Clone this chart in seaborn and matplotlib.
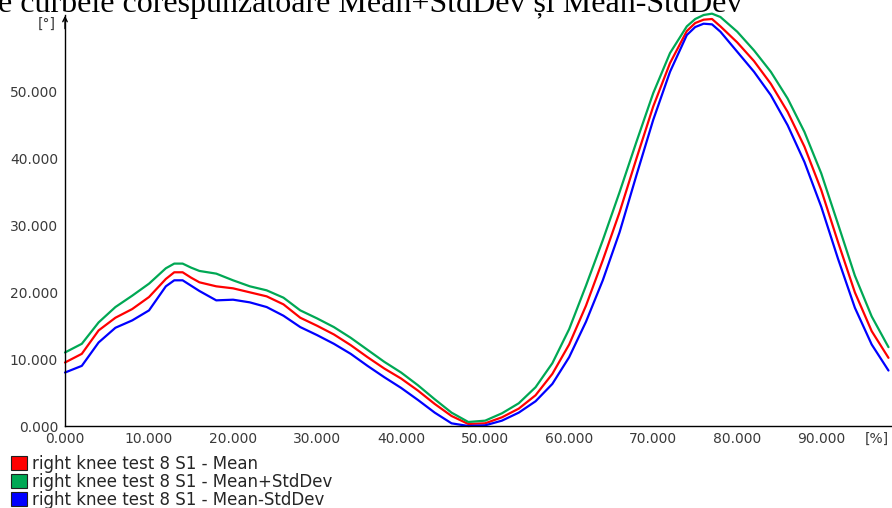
import numpy as np
import pandas as pd
import matplotlib
matplotlib.use("Agg")
import matplotlib.pyplot as plt
from matplotlib.patches import Patch
from matplotlib.ticker import MultipleLocator, FormatStrFormatter
import seaborn as sns

# Gait cycle (%) and knee flexion angle (deg)
cycle = [0, 2, 4, 6, 8, 10, 12, 13, 14, 15, 16, 18, 20, 22, 24, 26, 28, 30, 32, 34, 36, 38,
         40, 42, 44, 46, 48, 50, 52, 54, 56, 58, 60, 62, 64, 66, 68, 70, 72, 74, 75, 76, 77, 78,
         80, 82, 84, 86, 88, 90, 92, 94, 96, 98]

mean = [9.5, 10.8, 14.3, 16.2, 17.5, 19.3, 22.0, 23.0, 23.0, 22.2, 21.5, 20.9, 20.6, 20.0, 19.4, 18.2, 16.2, 15.0, 13.7, 12.1, 10.3, 8.6,
        7.1, 5.3, 3.3, 1.5, 0.3, 0.4, 1.3, 2.6, 4.6, 7.8, 12.2, 18.0, 24.8, 32.0, 40.0, 47.8, 54.3, 59.1, 60.3, 60.8, 60.9, 59.8,
        57.4, 54.6, 51.2, 47.0, 41.8, 35.3, 27.5, 20.0, 14.2, 10.2]

mean_plus_sd = [11.0, 12.3, 15.5, 17.8, 19.5, 21.3, 23.6, 24.3, 24.3, 23.7, 23.2, 22.8, 21.8, 20.9, 20.3, 19.2, 17.3, 16.1, 14.8, 13.2, 11.4, 9.6,
                8.0, 6.1, 4.0, 2.0, 0.6, 0.8, 1.9, 3.4, 5.8, 9.4, 14.5, 21.0, 27.8, 35.0, 42.5, 49.8, 55.8, 59.8, 60.9, 61.5, 61.7, 61.2,
                59.0, 56.2, 53.0, 49.0, 44.0, 37.8, 30.2, 22.5, 16.4, 11.8]

mean_minus_sd = [8.0, 9.0, 12.5, 14.7, 15.8, 17.3, 20.9, 21.8, 21.8, 21.0, 20.2, 18.8, 18.9, 18.5, 17.8, 16.5, 14.8, 13.6, 12.3, 10.8, 9.0, 7.3,
                 5.7, 3.9, 2.0, 0.4, 0.0, 0.1, 0.8, 2.0, 3.7, 6.3, 10.3, 15.6, 21.8, 29.0, 37.5, 45.8, 53.0, 58.5, 59.7, 60.2, 60.1, 59.0,
                 56.0, 53.0, 49.5, 45.0, 39.5, 32.8, 25.0, 17.7, 12.2, 8.3]

labels = ["right knee test 8 S1 - Mean",
          "right knee test 8 S1 - Mean+StdDev",
          "right knee test 8 S1 - Mean-StdDev"]
colors = ["#ff0000", "#00a854", "#0000ff"]

df = pd.concat([
    pd.DataFrame({"cycle": cycle, "angle": mean, "series": labels[0]}),
    pd.DataFrame({"cycle": cycle, "angle": mean_plus_sd, "series": labels[1]}),
    pd.DataFrame({"cycle": cycle, "angle": mean_minus_sd, "series": labels[2]}),
])

sns.set_style("white")
plt.rcParams["font.family"] = ["DejaVu Sans"]

W, H = 892, 508
fig = plt.figure(figsize=(W / 100, H / 100), dpi=100)
ax = fig.add_axes([65 / W, (H - 426) / H, (891 - 65) / W, (426 - 15) / H])

sns.lineplot(data=df, x="cycle", y="angle", hue="series", hue_order=labels,
             palette=colors, linewidth=1.6, legend=False, ax=ax, clip_on=False)

ax.set_xlim(0, 98.3)
ax.set_ylim(0, 61.5)
ax.set_xlabel("")
ax.set_ylabel("")

for side in ("top", "right"):
    ax.spines[side].set_visible(False)
for side in ("left", "bottom"):
    ax.spines[side].set_color("black")
    ax.spines[side].set_linewidth(1.0)

ax.xaxis.set_minor_locator(MultipleLocator(2))
ax.yaxis.set_minor_locator(MultipleLocator(2))
ax.xaxis.set_major_formatter(FormatStrFormatter("%.3f"))
ax.yaxis.set_major_formatter(FormatStrFormatter("%.3f"))
ax.set_xticks([0, 10, 20, 30, 40, 50, 60, 70, 80, 90])
ax.set_yticks([0, 10, 20, 30, 40, 50])

ax.tick_params(which="major", direction="inout", length=6, width=1, color="black",
               labelsize=10, labelcolor="#3a3a3a", pad=2)
ax.tick_params(which="minor", direction="out", length=3, width=0.8, color="black")
ax.tick_params(axis="x", which="major", pad=1)

# axis arrow and units
ax.annotate("", xy=(0, 1.005), xycoords="axes fraction", xytext=(0, 0.96),
            arrowprops=dict(arrowstyle="->", color="black", lw=1.0, mutation_scale=8))
fig.text(38 / W, 1 - 28 / H, "[°]", fontsize=10, color="#3a3a3a", va="baseline")
fig.text(865 / W, 1 - 443 / H, "[%]", fontsize=10, color="#3a3a3a", va="baseline")

# caption line above the chart
fig.text(-2 / W, 1 - 12 / H, "e curbele corespunzătoare Mean+StdDev și Mean-StdDev",
         family="Liberation Serif", fontsize=23, color="black", va="baseline")

handles = [Patch(facecolor=c, edgecolor="#202020", linewidth=0.8) for c in colors]
fig.legend(handles, labels, loc="upper left", bbox_to_anchor=(11 / W, 1 - 455 / H),
           frameon=False, fontsize=12, handlelength=0.95, handleheight=0.9,
           handletextpad=0.3, labelspacing=0.0, borderpad=0, borderaxespad=0)

fig.savefig("out.png", dpi=100)
